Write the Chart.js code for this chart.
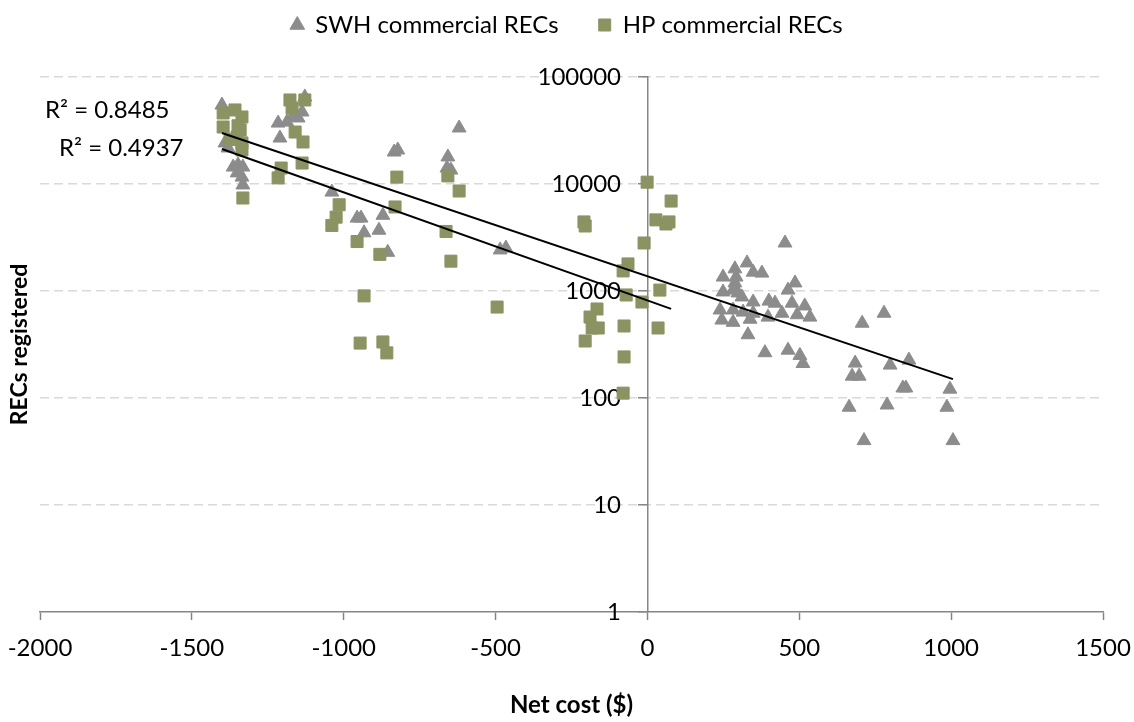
<!DOCTYPE html>
<html>
<head>
<meta charset="utf-8">
<title>RECs registered vs net cost</title>
<script src="https://cdn.jsdelivr.net/npm/chart.js@4/dist/chart.umd.min.js"></script>
<style>
  html, body { margin: 0; padding: 0; background: #ffffff; }
  #wrap { width: 1134px; height: 722px; }
</style>
</head>
<body>
<div id="wrap"><canvas id="chart" width="1134" height="722"></canvas></div>
<script>
// Solar water heater (SWH) commercial RECs: net cost ($) and RECs registered
const swhCost = [
  -1401, -1391, -1381, -1364, -1348, -1332, -1351, -1335, -1332,
  -1128, -1137, -1170, -1150, -1187, -1216, -1210,
  -1039, -956, -943, -933, -871, -884, -855, -834, -822,
  -657, -660, -647, -620, -485, -466,
  453, 328, 288, 348, 377, 249, 292, 288, 486, 463, 249, 282, 298, 311,
  400, 420, 348, 476, 518, 239, 282, 315, 348, 443, 493, 535, 245, 282,
  338, 397, 331, 387, 463, 502, 512,
  707, 779, 684, 674, 697, 799, 861, 841, 851, 996, 664, 789, 986, 713, 1006
];
const swhRecs = [
  54700, 24200, 21700, 14400, 15100, 14400, 12700, 11600, 9800,
  65000, 47100, 42300, 41400, 37900, 37100, 26900,
  8400, 4800, 4800, 3500, 5100, 3700, 2300, 19900, 20800,
  17900, 14100, 13500, 33400, 2420, 2520,
  2810, 1830, 1610, 1500, 1470, 1350, 1350, 1190, 1190, 1020, 980, 1020, 960, 880,
  805, 770, 790, 770, 725, 665, 665, 635, 620, 620, 600, 570, 535, 510,
  545, 570, 390, 265, 280, 250, 210,
  500, 620, 212, 160, 160, 203, 226, 124, 124, 121, 82, 86, 82, 40, 40
];

// Heat pump (HP) commercial RECs: net cost ($) and RECs registered
const hpCost = [
  -1397, -1358, -1335, -1397, -1348, -1351, -1335, -1335, -1374, -1341, -1332,
  -1177, -1128, -1170, -1160, -1134, -1137, -1206, -1216,
  -1015, -1025, -1039, -956, -881, -825, -831, -933, -946, -871, -858,
  -657, -620, -663, -647, -495,
  -209, -205, -1, 78, 28, 61, 71, -11, -64, -80, 41, -70, -18,
  -166, -189, -162, -182, -77, 35, -205, -77, -80
];
const hpRecs = [
  46100, 49200, 42300, 34100, 35000, 27500, 24200, 20800, 26000, 32000, 7400,
  61000, 61000, 51300, 30600, 24700, 15700, 14100, 11400,
  6400, 4900, 4100, 2900, 2200, 11600, 6100, 900, 326, 334, 264,
  11900, 8600, 3600, 1900, 708,
  4420, 4050, 10400, 6930, 4620, 4230, 4420, 2810, 1790, 1540, 1020, 918, 789,
  679, 571, 451, 451, 471, 451, 341, 242, 111
];

// Exponential trendlines (straight on the log axis): end points of each fit
const swhTrendCost = [-1401, 1006];
const swhTrendRecs = [29970, 150];
const hpTrendCost = [-1401, 78];
const hpTrendRecs = [21240, 680];

// Fit statistics shown beside the trendlines
const rSquaredText = ['R\u00B2 = 0.8485', 'R\u00B2 = 0.4937'];

// Axis ticks
const costTicks = [-2000, -1500, -1000, -500, 0, 500, 1000, 1500];
const recTicks = [1, 10, 100, 1000, 10000, 100000];

const FONT = 'Lato, "Open Sans", "DejaVu Sans", sans-serif';
const AXIS_GREY = '#868686';
// cost value where the right edge of the RECs tick labels sits (left of the y axis line)
const recLabelEdge = -87;

const toPoints = (xs, ys) => xs.map((x, i) => ({ x: x, y: ys[i] }));
const fixedTicks = (values) => (s) => { s.ticks = values.map((v) => ({ value: v })); };
const hiddenBox = {
  ticks: { display: false },
  grid: { display: false },
  border: { display: false }
};

const rSquaredLabels = {
  id: 'rSquaredLabels',
  afterDatasetsDraw(chart) {
    const { ctx, chartArea } = chart;
    ctx.save();
    ctx.font = '24px ' + FONT;
    ctx.fillStyle = '#000000';
    ctx.textAlign = 'left';
    ctx.textBaseline = 'middle';
    ctx.fillText(rSquaredText[0], chartArea.left + 5, chartArea.top + 33);
    ctx.fillText(rSquaredText[1], chartArea.left + 19, chartArea.top + 71);
    ctx.restore();
  }
};

new Chart(document.getElementById('chart'), {
  type: 'scatter',
  data: {
    datasets: [
      {
        label: 'SWH commercial RECs',
        data: toPoints(swhCost, swhRecs),
        pointStyle: 'triangle',
        pointRadius: 8,
        backgroundColor: '#8c8c8c',
        borderColor: '#8c8c8c',
        borderWidth: 1,
        order: 4
      },
      {
        label: 'HP commercial RECs',
        data: toPoints(hpCost, hpRecs),
        pointStyle: 'rect',
        pointRadius: 8.5,
        backgroundColor: '#8b9362',
        borderColor: '#8b9362',
        borderWidth: 1,
        order: 3
      },
      {
        label: 'SWH trend',
        type: 'line',
        data: toPoints(swhTrendCost, swhTrendRecs),
        borderColor: '#000000',
        borderWidth: 2,
        pointRadius: 0,
        fill: false,
        order: 2
      },
      {
        label: 'HP trend',
        type: 'line',
        data: toPoints(hpTrendCost, hpTrendRecs),
        borderColor: '#000000',
        borderWidth: 2,
        pointRadius: 0,
        fill: false,
        order: 1
      }
    ]
  },
  options: {
    responsive: false,
    animation: false,
    devicePixelRatio: 1,
    layout: { padding: { top: -27, right: 0, bottom: 0, left: 0 } },
    plugins: {
      legend: {
        position: 'top',
        labels: {
          usePointStyle: true,
          boxWidth: 12,
          boxHeight: 12,
          padding: 40,
          color: '#000000',
          font: { family: FONT, size: 24 },
          filter: (item) => item.datasetIndex < 2,
          sort: (a, b) => a.datasetIndex - b.datasetIndex
        }
      },
      tooltip: { enabled: false }
    },
    scales: {
      x: {
        type: 'linear',
        position: 'bottom',
        min: -2000,
        max: 1500,
        afterBuildTicks: fixedTicks(costTicks),
        afterFit: (s) => { s.height = 110; },
        ticks: {
          callback: (v) => String(v),
          color: '#000000',
          font: { family: FONT, size: 24, lineHeight: 2.08 },
          padding: 3,
          maxRotation: 0,
          autoSkip: false
        },
        grid: {
          drawOnChartArea: false,
          drawTicks: true,
          tickLength: 8,
          tickColor: AXIS_GREY,
          tickWidth: 1.5
        },
        border: { display: true, color: AXIS_GREY, width: 1.5 },
        title: {
          display: true,
          text: 'Net cost ($)',
          color: '#000000',
          font: { family: FONT, size: 24, weight: 'bold' },
          padding: { top: 0, bottom: 2 }
        }
      },
      // y axis line, tick marks and dashed grid, crossing the cost axis at 0
      y: {
        type: 'logarithmic',
        position: { x: 0 },
        min: 1,
        max: 100000,
        afterBuildTicks: fixedTicks(recTicks),
        ticks: { display: false },
        grid: {
          color: (c) => (c.tick && c.tick.value === 1 ? 'rgba(0,0,0,0)' : '#d9d9d9'),
          lineWidth: 1.5,
          drawTicks: true,
          tickLength: 9,
          tickColor: AXIS_GREY,
          tickWidth: 1.5,
          tickBorderDash: []
        },
        border: { display: true, color: AXIS_GREY, width: 1.5, dash: [9, 5] }
      },
      // tick labels of the RECs axis, right-aligned just left of the axis ticks
      yLabels: {
        type: 'logarithmic',
        position: { x: recLabelEdge },
        min: 1,
        max: 100000,
        afterBuildTicks: fixedTicks(recTicks),
        ticks: {
          callback: (v) => String(v),
          color: '#000000',
          font: { family: FONT, size: 24 },
          padding: 0,
          autoSkip: false
        },
        grid: { display: false, drawTicks: false, tickLength: 0 },
        border: { display: false }
      },
      yTitle: Object.assign({}, hiddenBox, {
        type: 'linear',
        position: 'left',
        afterFit: (s) => { s.width = 40; },
        title: {
          display: true,
          text: 'RECs registered',
          color: '#000000',
          font: { family: FONT, size: 23, weight: 'bold' },
          padding: { top: 6, bottom: 0 }
        }
      }),
      topGap: Object.assign({}, hiddenBox, {
        type: 'linear',
        position: 'top',
        afterFit: (s) => { s.height = 30; }
      }),
      rightGap: Object.assign({}, hiddenBox, {
        type: 'linear',
        position: 'right',
        afterFit: (s) => { s.width = 31; }
      })
    }
  },
  plugins: [rSquaredLabels]
});
</script>
</body>
</html>
